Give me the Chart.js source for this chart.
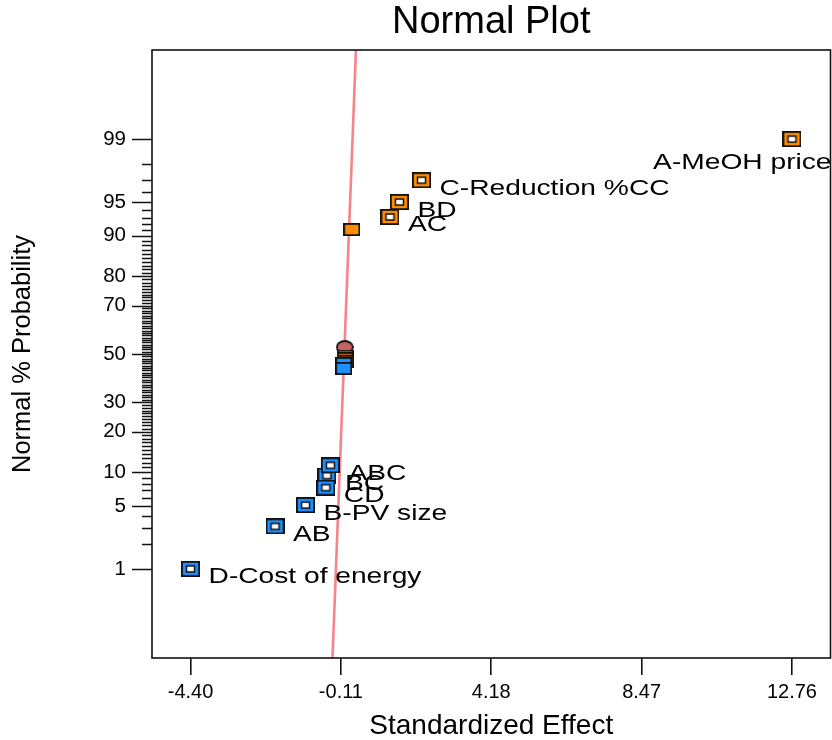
<!DOCTYPE html>
<html>
<head>
<meta charset="utf-8">
<title>Normal Plot</title>
<script src="https://cdn.jsdelivr.net/npm/chart.js@4.4.1/dist/chart.umd.min.js"></script>
<style>
  html, body { margin: 0; padding: 0; background: #fff; }
  #plot { display: block; }
</style>
</head>
<body>
<canvas id="plot" width="832" height="740"></canvas>
<script>
// Labelled model terms: standardized effect and normal % probability
const termNames = ['A-MeOH price', 'C-Reduction %CC', 'BD', 'AC', 'BC', 'ABC', 'CD', 'B-PV size', 'AB', 'D-Cost of energy'];
const termEffects = [12.76, 2.19, 1.56, 1.29, -0.51, -0.41, -0.54, -1.12, -1.99, -4.40];
const termProbs = [99.0, 97.0, 95.0, 93.1, 9.4, 11.4, 7.4, 5.1, 3.1, 1.0];

// Terms not in the model (filled squares)
const otherEffects = [0.20, 0.01, 0.01, 0.01, -0.03, -0.03];
const otherProbs = [91.1, 49.1, 47.9, 46.8, 45.9, 43.8];

// Error estimate
const errorEffects = [0.00];
const errorProbs = [53.0];

// Normal line, given by its two ends
const lineEffects = [-0.35, 0.32];
const lineProbs = [0.05, 99.95];

// Axis ticks
const effectTicks = [-4.40, -0.11, 4.18, 8.47, 12.76];
const probTicks = [1, 5, 10, 20, 30, 50, 70, 80, 90, 95, 99];

const ORANGE = 'rgb(255,140,0)';
const BLUE = 'rgb(30,144,255)';
const FONT = "'Liberation Sans', Arial, sans-serif";

// inverse normal CDF (Acklam), percent in -> z out
function probit(pct) {
  const p = pct / 100;
  const a = [-3.969683028665376e+01, 2.209460984245205e+02, -2.759285104469687e+02, 1.383577518672690e+02, -3.066479806614716e+01, 2.506628277459239e+00];
  const b = [-5.447609879822406e+01, 1.615858368580409e+02, -1.556989798598866e+02, 6.680131188771972e+01, -1.328068155288572e+01];
  const c = [-7.784894002430293e-03, -3.223964580411365e-01, -2.400758277161838e+00, -2.549732539343734e+00, 4.374664141464968e+00, 2.938163982698783e+00];
  const d = [7.784695709041462e-03, 3.224671290700398e-01, 2.445134137142996e+00, 3.754408661907416e+00];
  const lo = 0.02425;
  if (p < lo) {
    const q = Math.sqrt(-2 * Math.log(p));
    return (((((c[0]*q + c[1])*q + c[2])*q + c[3])*q + c[4])*q + c[5]) / ((((d[0]*q + d[1])*q + d[2])*q + d[3])*q + 1);
  }
  if (p > 1 - lo) {
    const q = Math.sqrt(-2 * Math.log(1 - p));
    return -(((((c[0]*q + c[1])*q + c[2])*q + c[3])*q + c[4])*q + c[5]) / ((((d[0]*q + d[1])*q + d[2])*q + d[3])*q + 1);
  }
  const q = p - 0.5, r = q * q;
  return (((((a[0]*r + a[1])*r + a[2])*r + a[3])*r + a[4])*r + a[5]) * q / (((((b[0]*r + b[1])*r + b[2])*r + b[3])*r + b[4])*r + 1);
}

const toPoints = (xs, ps) => xs.map((x, i) => ({ x: x, y: probit(ps[i]) }));

// small canvases used as point styles
function makeMarker(w, h, draw) {
  const c = document.createElement('canvas');
  c.width = w;
  c.height = h;
  draw(c.getContext('2d'), w, h);
  return c;
}
function openSquare(color) {
  return makeMarker(19, 16, (g, w, h) => {
    g.fillStyle = color;
    g.fillRect(0, 0, w, h);
    g.strokeStyle = '#111';
    g.lineWidth = 1.8;
    g.strokeRect(0.9, 0.9, w - 1.8, h - 1.8);
    g.fillStyle = '#fff';
    g.fillRect(5.5, 5, w - 11, h - 10);
    g.lineWidth = 1.5;
    g.strokeRect(5.5, 5, w - 11, h - 10);
  });
}
function filledSquare(color) {
  return makeMarker(17, 13, (g, w, h) => {
    g.fillStyle = color;
    g.fillRect(0, 0, w, h);
    g.strokeStyle = '#111';
    g.lineWidth = 1.8;
    g.strokeRect(0.9, 0.9, w - 1.8, h - 1.8);
  });
}
function ellipseMarker(color) {
  return makeMarker(18, 14, (g, w, h) => {
    g.beginPath();
    g.ellipse(w / 2, h / 2, w / 2 - 1, h / 2 - 1, 0, 0, Math.PI * 2);
    g.fillStyle = color;
    g.fill();
    g.strokeStyle = '#111';
    g.lineWidth = 1.8;
    g.stroke();
  });
}

const markers = {
  openPos: openSquare(ORANGE),
  openNeg: openSquare(BLUE),
  filledPos: filledSquare(ORANGE),
  filledNeg: filledSquare(BLUE),
  error: ellipseMarker('rgb(198,98,96)')
};

// y tick marks (every percent, longer at labelled ones) and the plot frame
const probFrame = {
  id: 'probFrame',
  afterDraw(chart) {
    const { ctx, chartArea: a, scales: { y } } = chart;
    ctx.save();
    ctx.strokeStyle = '#111';
    ctx.lineWidth = 1.3;
    ctx.beginPath();
    for (let p = 1; p <= 99; p++) {
      const py = Math.round(y.getPixelForValue(probit(p))) + 0.5;
      const len = probTicks.includes(p) ? 20 : 10;
      ctx.moveTo(a.left - len, py);
      ctx.lineTo(a.left, py);
    }
    ctx.stroke();
    ctx.lineWidth = 1.6;
    ctx.strokeRect(a.left, a.top, a.right - a.left, a.bottom - a.top);
    ctx.restore();
  }
};

// term names next to their points
const termLabels = {
  id: 'termLabels',
  afterDatasetsDraw(chart) {
    const { ctx, chartArea: a } = chart;
    const meta = chart.getDatasetMeta(3);
    const stretch = 1.28;
    ctx.save();
    ctx.font = '22px ' + FONT;
    ctx.fillStyle = '#000';
    ctx.textBaseline = 'alphabetic';
    meta.data.forEach((pt, i) => {
      const text = termNames[i];
      const w = ctx.measureText(text).width * stretch;
      let tx = pt.x + 18;
      let ty = pt.y + 14.5;
      if (tx + w > a.right + 2) {
        tx = a.right + 1 - w;
        ty += 15.5;
      }
      ctx.save();
      ctx.translate(tx, ty);
      ctx.scale(stretch, 1);
      ctx.fillText(text, 0, 0);
      ctx.restore();
    });
    ctx.restore();
  }
};

const styleBySign = (pos, neg) => ctx => (ctx.raw && ctx.raw.x >= 0 ? pos : neg);

new Chart(document.getElementById('plot'), {
  type: 'scatter',
  data: {
    datasets: [
      {
        label: 'line',
        data: toPoints(lineEffects, lineProbs),
        showLine: true,
        borderColor: 'rgb(246,132,138)',
        borderWidth: 2.6,
        pointRadius: 0,
        order: 3
      },
      {
        label: 'error',
        data: toPoints(errorEffects, errorProbs),
        pointStyle: markers.error,
        pointRadius: 8,
        order: 2
      },
      {
        label: 'other',
        data: toPoints(otherEffects, otherProbs),
        pointStyle: styleBySign(markers.filledPos, markers.filledNeg),
        pointRadius: 8,
        order: 1
      },
      {
        label: 'terms',
        data: toPoints(termEffects, termProbs),
        pointStyle: styleBySign(markers.openPos, markers.openNeg),
        pointRadius: 8,
        order: 0
      }
    ]
  },
  options: {
    responsive: false,
    animation: false,
    events: [],
    layout: { autoPadding: false, padding: { right: 1.5 } },
    plugins: {
      legend: { display: false },
      tooltip: { enabled: false },
      title: {
        display: true,
        text: 'Normal Plot',
        fullSize: false,
        color: '#000',
        font: { family: FONT, size: 38, weight: 'normal', lineHeight: 1.2 },
        padding: { top: 0, bottom: 4.4 }
      }
    },
    scales: {
      x: {
        type: 'linear',
        min: -5.50,
        max: 13.86,
        afterBuildTicks: s => { s.ticks = effectTicks.map(v => ({ value: v })); },
        afterFit: s => { s.height = 82; },
        ticks: {
          autoSkip: false,
          maxRotation: 0,
          color: '#000',
          font: { family: FONT, size: 20 },
          padding: 5,
          callback: v => v.toFixed(2)
        },
        grid: { drawOnChartArea: false, drawTicks: true, tickLength: 17, color: '#111', lineWidth: 1.6 },
        border: { display: false },
        title: {
          display: true,
          text: 'Standardized Effect',
          color: '#000',
          font: { family: FONT, size: 28, lineHeight: 1 },
          padding: 0
        }
      },
      y: {
        type: 'linear',
        min: probit(0.05),
        max: probit(99.95),
        afterBuildTicks: s => { s.ticks = probTicks.map(p => ({ value: probit(p) })); },
        afterFit: s => { s.width = 152; },
        ticks: {
          autoSkip: false,
          color: '#000',
          font: { family: FONT, size: 20.5 },
          padding: 26,
          callback: (v, i) => String(probTicks[i])
        },
        grid: { display: false, drawTicks: false },
        border: { display: false },
        title: {
          display: true,
          text: 'Normal % Probability',
          color: '#000',
          font: { family: FONT, size: 25.5, lineHeight: 1 },
          padding: { top: 10, bottom: 0 }
        }
      }
    }
  },
  plugins: [probFrame, termLabels]
});
</script>
</body>
</html>
